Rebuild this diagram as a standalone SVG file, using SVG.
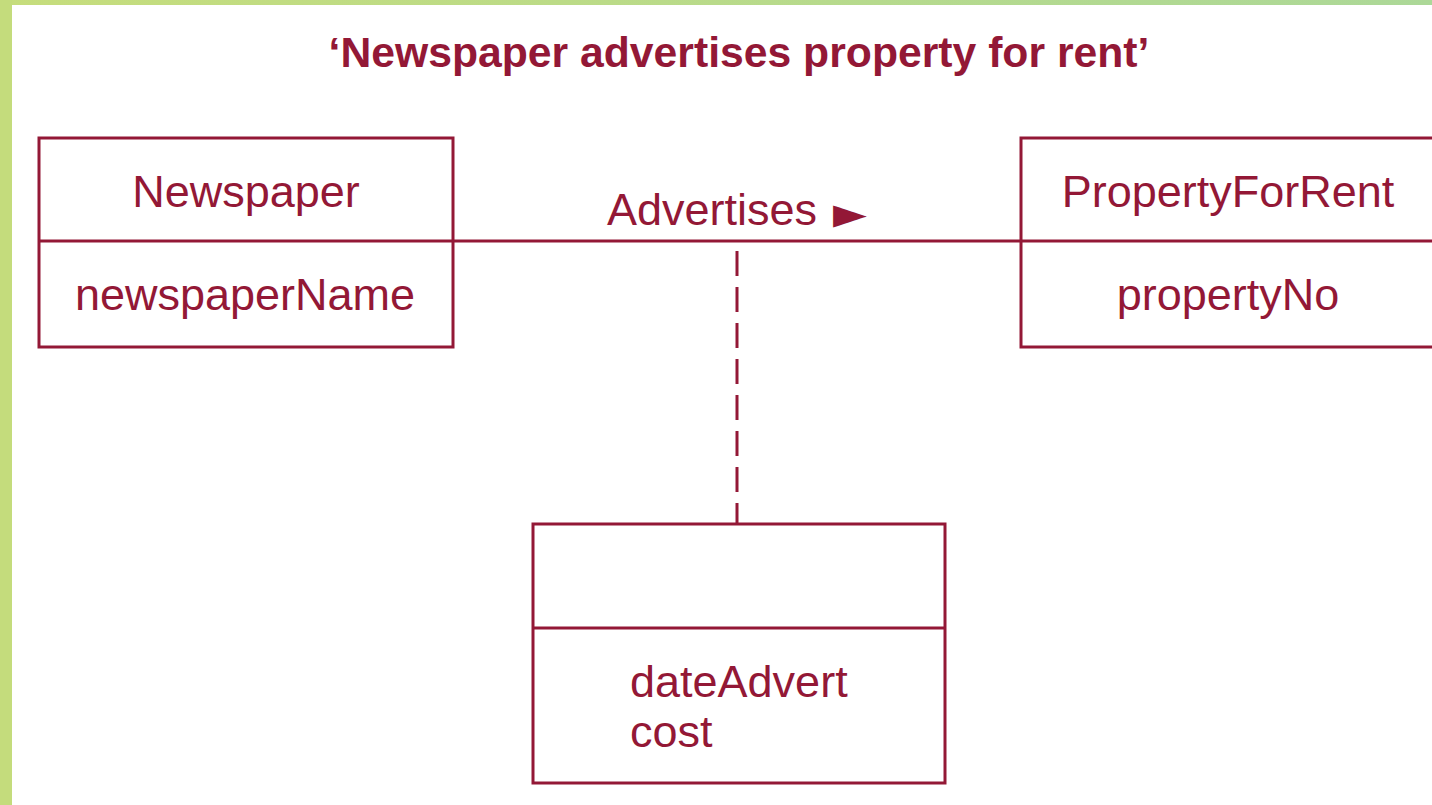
<svg xmlns="http://www.w3.org/2000/svg" width="1432" height="805" viewBox="0 0 1432 805">
  <defs>
    <linearGradient id="topband" x1="0" y1="0" x2="1" y2="0">
      <stop offset="0" stop-color="#c6dd7c"/>
      <stop offset="1" stop-color="#acd898"/>
    </linearGradient>
    <style>
      .box { fill: #ffffff; stroke: #931836; stroke-width: 3; }
      .div { stroke: #931836; stroke-width: 3; }
      .conn { stroke: #931836; stroke-width: 3; fill: none; }
      .dash { stroke: #931836; stroke-width: 3; fill: none; stroke-dasharray: 25 11; }
      .lbl { font-family: "Liberation Sans", Arial, sans-serif; font-size: 45px; fill: #931836; }
      .title { font-family: "Liberation Sans", Arial, sans-serif; font-size: 42.7px; font-weight: bold; fill: #931836; }
    </style>
  </defs>
  <rect x="0" y="0" width="1432" height="805" fill="#ffffff"/>
  <rect x="0" y="0" width="1432" height="5" fill="url(#topband)"/>
  <rect x="0" y="0" width="12" height="805" fill="#c4dc7c"/>

  <text class="title" x="739" y="67" text-anchor="middle">‘Newspaper advertises property for rent’</text>

  <g id="connectors">
    <line class="conn" x1="453" y1="241" x2="1021" y2="241"/>
    <line class="dash" x1="737" y1="251" x2="737" y2="524"/>
    <text class="lbl" x="607" y="225">Advertises <tspan x="833" y="228" font-family="'DejaVu Sans', sans-serif" font-size="44px">►</tspan></text>
  </g>

  <g id="newspaper">
    <rect class="box" x="39" y="138" width="414" height="209"/>
    <line class="div" x1="39" y1="241" x2="453" y2="241"/>
    <text class="lbl" x="246" y="207" text-anchor="middle">Newspaper</text>
    <text class="lbl" x="245" y="310" text-anchor="middle">newspaperName</text>
  </g>

  <g id="propertyforrent">
    <rect class="box" x="1021" y="138" width="416" height="209"/>
    <line class="div" x1="1021" y1="241" x2="1437" y2="241"/>
    <text class="lbl" x="1228" y="207" text-anchor="middle">PropertyForRent</text>
    <text class="lbl" x="1228" y="310" text-anchor="middle">propertyNo</text>
  </g>

  <g id="advert">
    <rect class="box" x="533" y="524" width="412" height="259"/>
    <line class="div" x1="533" y1="628" x2="945" y2="628"/>
    <text class="lbl" x="630" y="697">dateAdvert</text>
    <text class="lbl" x="630" y="747">cost</text>
  </g>
</svg>
